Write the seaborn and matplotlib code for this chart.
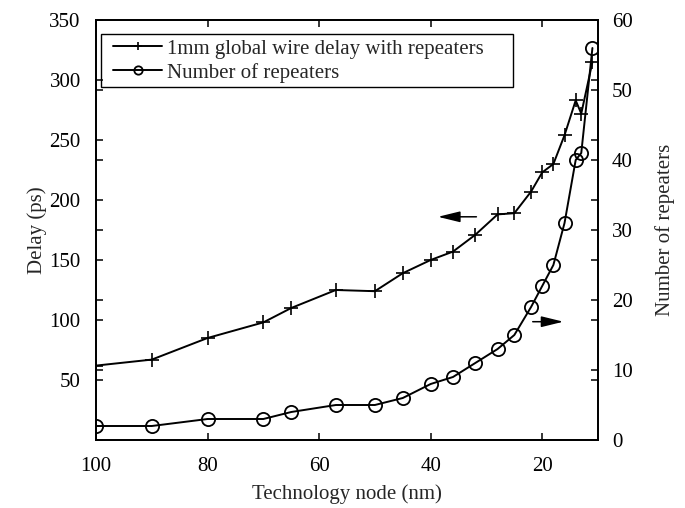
import matplotlib
matplotlib.use("Agg")
import matplotlib.pyplot as plt
from matplotlib.patches import Rectangle
import seaborn as sns
import pandas as pd

# Data
node_nm = [100, 90, 80, 70, 65, 57, 50, 45, 40, 36, 32, 28, 25, 22, 20, 18, 16, 14, 13, 11]
delay_ps = [62, 67, 85, 98, 110, 125, 124, 139, 150, 157, 171, 188, 189, 207, 223, 230, 254, 283, 272, 315]
repeaters = [2, 2, 3, 3, 4, 5, 5, 6, 8, 9, 11, 13, 15, 19, 22, 25, 31, 40, 41, 56]

left_ticks = [50, 100, 150, 200, 250, 300, 350]
right_ticks = [0, 10, 20, 30, 40, 50, 60]
x_ticks = [100, 80, 60, 40, 20]

label_delay = "1mm global wire delay with repeaters"
label_rep = "Number of repeaters"

df = pd.DataFrame({"node": node_nm, "delay": delay_ps, "rep": repeaters})

sns.set_style("ticks")
plt.rcParams["font.family"] = ["Liberation Serif", "DejaVu Serif"]
plt.rcParams["font.size"] = 15
plt.rcParams["xtick.direction"] = "in"
plt.rcParams["ytick.direction"] = "in"

FS = 15

fig = plt.figure(figsize=(6.85, 5.08), dpi=100)
ax = fig.add_axes([96/685, 1-440/508, (598-96)/685, (440-20)/508])
ax2 = ax.twinx()

sns.lineplot(data=df, x="node", y="delay", ax=ax, color="black", marker="+",
             markersize=10, markeredgewidth=1.2, markeredgecolor="black", linewidth=1.4,
             sort=False, label=label_delay, legend=False)
sns.lineplot(data=df, x="node", y="rep", ax=ax2, color="black", marker="o",
             markersize=9.5, markerfacecolor="none", markeredgecolor="black", markeredgewidth=1.3,
             linewidth=1.4, sort=False, label=label_rep, legend=False)

ax.set_xlim(100, 10)
ax.set_ylim(0, 350)
ax2.set_ylim(0, 60)
ax.set_xticks(x_ticks)
ax.set_xticklabels([str(t) for t in x_ticks])
ax.set_yticks(left_ticks)
ax2.set_yticks(right_ticks)

for a in (ax, ax2):
    for s in a.spines.values():
        s.set_linewidth(1.3)
        s.set_color("black")
        s.set_visible(True)
ax.tick_params(axis="x", which="both", direction="in", top=True, length=5, width=1.1,
               labelsize=FS, colors="black", pad=12.5)
ax.tick_params(axis="y", which="both", direction="in", right=True, length=5, width=1.1,
               labelsize=FS, colors="black", pad=11)
ax2.tick_params(axis="y", direction="in", left=True, right=True, labelleft=False, length=5, width=1.1,
                labelsize=FS, colors="black", pad=10)

ax.set_xlabel("Technology node (nm)", fontsize=FS, labelpad=6)
ax.set_ylabel("Delay (ps)", fontsize=FS, labelpad=2)
ax2.set_ylabel("Number of repeaters", fontsize=FS, labelpad=16)

ax.annotate("", xy=(39.2, 186), xytext=(31.3, 186),
            arrowprops=dict(arrowstyle="-|>,head_length=0.9,head_width=0.22", color="black", lw=1.1))
ax2.annotate("", xy=(15.7, 16.9), xytext=(22.2, 16.9),
             arrowprops=dict(arrowstyle="-|>,head_length=0.9,head_width=0.22", color="black", lw=1.1))

# legend frame (MATLAB-like, extra space on the right)
ax2.add_patch(Rectangle((5/502, (440-87)/420), (513-101)/502, (87-34)/420,
                        transform=ax2.transAxes, facecolor="none", edgecolor="black",
                        linewidth=1.0, zorder=4))

h1, l1 = ax.get_legend_handles_labels()
h2, l2 = ax2.get_legend_handles_labels()
leg = ax2.legend(h1 + h2, l1 + l2, loc="upper left",
                 bbox_to_anchor=(14/502, 0.962), numpoints=1, frameon=False,
                 fontsize=FS, handlelength=2.35, handletextpad=0.25, borderpad=0.15,
                 labelspacing=0.2, borderaxespad=0.0)
leg.set_zorder(5)
for ln in leg.get_lines():
    ln.set_markersize(6)

fig.savefig("out.png", dpi=100)
